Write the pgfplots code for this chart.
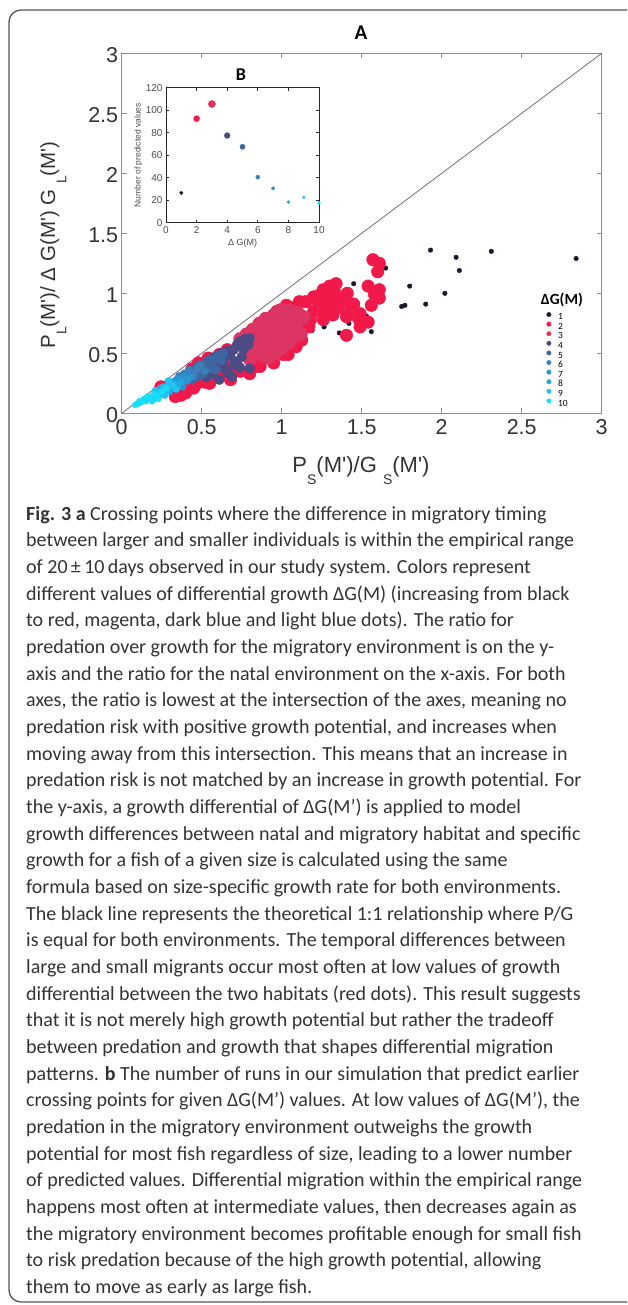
\documentclass[border=0pt]{standalone}
\usepackage{pgfplots}
\pgfplotsset{compat=1.18}
\usepackage{fontspec}
\setmainfont{Carlito}
\newfontfamily\chartfont{Liberation Sans}

\definecolor{c1}{HTML}{1A1A2E}
\definecolor{c2}{HTML}{F0194A}
\definecolor{c3}{HTML}{DC3563}
\definecolor{c4}{HTML}{4B4B85}
\definecolor{c5}{HTML}{3E66A0}
\definecolor{c6}{HTML}{3B80BB}
\definecolor{c7}{HTML}{2B93CF}
\definecolor{c8}{HTML}{23A9E2}
\definecolor{c9}{HTML}{1EC3F1}
\definecolor{c10}{HTML}{19DEF9}
\definecolor{axgray}{HTML}{8C8C8C}
\definecolor{txtgray}{HTML}{333333}
\definecolor{framegray}{HTML}{555555}
\definecolor{captext}{HTML}{333333}

\newcommand{\subs}[1]{\raisebox{-0.55em}{\fontsize{14}{14}\selectfont #1}}

\pgfplotsset{
  dots/.style={only marks, mark=*, color=#1, mark options={draw=none, fill=#1}},
}

\begin{document}
\begin{tikzpicture}
\path[use as bounding box] (0pt,0pt) rectangle (627pt,-1305pt);
\draw[framegray, line width=1.3pt] (627pt,-10pt) -- (21pt,-10pt)
  arc[start angle=90, end angle=180, radius=12pt] -- (9pt,-1290pt)
  arc[start angle=180, end angle=270, radius=12pt] -- (627pt,-1302pt);

% main panel A
\begin{axis}[
  at={(121.7pt,-413.3pt)}, anchor=south west,
  width=480pt, height=360pt, scale only axis,
  xmin=0, xmax=3, ymin=0, ymax=3,
  xtick={0,0.5,1,1.5,2,2.5,3},
  ytick={0,0.5,1,1.5,2,2.5,3},
  tick align=inside,
  major tick length=5pt,
  axis line style={draw=axgray, line width=0.9pt},
  every tick/.style={draw=axgray, line width=0.8pt},
  ticklabel style={font=\chartfont\fontsize{21.5}{21.5}\selectfont, text=txtgray},
  xticklabel style={yshift=-3pt},
  yticklabel style={yshift=-2pt},
  /pgf/number format/assume math mode=true,
  legend image code/.code={\draw[#1, mark size=2.2pt] plot coordinates {(0pt,3pt)};},
  legend style={at={(axis cs:2.655,0.843)}, anchor=north west, draw=none, fill=none,
    inner sep=0pt, row sep=0pt, column sep=7pt,
    font=\fontsize{9.5}{9.5}\selectfont,
    nodes={inner sep=0pt, text height=6.6pt, text depth=2.2pt}},
  legend cell align=left,
]
\addplot[axgray!80!black, line width=0.8pt, forget plot] coordinates {(0,0) (3,3)};

\addplot[dots=c1, mark size=2.3pt] coordinates {
(1.93,1.36) (2.09,1.30) (2.31,1.35) (2.84,1.29) (2.11,1.19) (1.45,1.08)
(1.80,1.06) (2.02,1.00) (1.75,0.89) (1.77,0.90) (1.90,0.91) (1.65,1.21)
(1.53,0.81) (1.42,0.75) (1.56,0.68) (1.36,0.67) (1.265,0.72) (1.19,0.69)
(1.30,0.95) (1.10,0.75) (0.98,0.60) (0.90,0.55)
};
\addlegendentry{1}

\addplot[dots=c2, mark size=6.3pt] coordinates {
(1.57,1.28) (1.61,1.25) (1.60,1.18)
(1.34,1.08) (1.30,1.06) (1.26,1.03) (1.24,0.99) (1.20,0.97) (1.15,0.93)
(1.23,0.92) (1.30,0.93) (1.28,0.98) (1.33,1.01)
(1.54,1.06) (1.61,1.03) (1.61,0.96) (1.56,0.90) (1.58,0.99)
(1.41,1.00) (1.385,0.93) (1.35,0.875) (1.43,0.86) (1.49,0.83) (1.405,0.805)
(1.32,0.82) (1.26,0.86) (1.20,0.85) (1.26,0.78) (1.135,0.805) (1.11,0.69)
(1.125,0.61) (1.49,0.72) (1.54,0.76) (1.405,0.65) (1.48,0.79) (1.37,0.95)
(1.45,0.91) (1.30,0.88) (1.18,0.78) (1.17,0.72)
(1.09,0.89) (1.01,0.83) (1.135,0.72) (1.03,0.90) (1.11,0.93) (0.97,0.85)
(1.05,0.64) (1.09,0.555) (1.01,0.49) (0.95,0.42) (0.865,0.39) (0.80,0.33)
(0.72,0.39) (0.68,0.28) (0.61,0.305) (0.55,0.25) (1.04,0.49) (0.84,0.39)
(0.865,0.46) (0.74,0.35)
(0.37,0.15) (0.335,0.14) (0.42,0.21) (0.47,0.25) (0.52,0.26) (0.585,0.305)
(0.625,0.33) (0.67,0.375) (0.265,0.21) (0.40,0.17) (0.45,0.21)
(0.48,0.42) (0.54,0.46) (0.61,0.49) (0.66,0.53) (0.245,0.22) (0.44,0.37)
};
\addlegendentry{2}

\addplot[dots=c3, mark size=6.5pt] coordinates {
(0.74,0.62) (0.78,0.66) (0.82,0.63) (0.86,0.69) (0.90,0.73) (0.94,0.77)
(0.98,0.79) (1.02,0.77) (1.06,0.81) (1.00,0.72) (0.96,0.68) (0.92,0.64)
(0.88,0.60) (0.84,0.56) (0.80,0.52) (0.90,0.54) (0.94,0.58) (0.98,0.62)
(1.02,0.66) (1.06,0.70) (1.10,0.76) (1.08,0.64) (1.04,0.58) (1.00,0.54)
(0.96,0.50) (0.92,0.46) (0.88,0.48) (1.12,0.66) (1.14,0.80) (1.10,0.84)
(1.05,0.86) (0.99,0.86) (0.95,0.82) (0.90,0.79) (0.86,0.75) (0.82,0.70)
(0.86,0.52) (0.80,0.45)
};
\addlegendentry{3}

\addplot[dots=c4, mark size=5.0pt] coordinates {
(0.80,0.625) (0.79,0.57) (0.74,0.60) (0.76,0.53) (0.80,0.375) (0.70,0.53)
(0.68,0.47) (0.635,0.39) (0.69,0.305) (0.61,0.28) (0.72,0.43) (0.66,0.52)
(0.62,0.50) (0.58,0.47) (0.72,0.57) (0.77,0.62) (0.64,0.45) (0.56,0.42)
(0.52,0.38) (0.66,0.34) (0.75,0.47) (0.53,0.30) (0.57,0.33) (0.74,0.38)
(0.60,0.40) (0.70,0.40)
};
\addlegendentry{4}

\addplot[dots=c5, mark size=4.6pt] coordinates {
(0.57,0.44) (0.635,0.50) (0.53,0.39) (0.59,0.36) (0.50,0.32) (0.55,0.45)
(0.60,0.48) (0.48,0.40) (0.45,0.36) (0.52,0.42) (0.62,0.44) (0.56,0.37)
(0.46,0.30) (0.42,0.33) (0.50,0.36) (0.44,0.28) (0.40,0.30)
};
\addlegendentry{5}

\addplot[dots=c6, mark size=3.9pt] coordinates {
(0.40,0.30) (0.44,0.34) (0.38,0.27) (0.47,0.37) (0.42,0.36) (0.36,0.31)
(0.49,0.40) (0.34,0.25) (0.45,0.31) (0.52,0.35) (0.39,0.33)
};
\addlegendentry{6}

\addplot[dots=c7, mark size=3.6pt] coordinates {
(0.33,0.27) (0.36,0.24) (0.39,0.30) (0.30,0.23) (0.41,0.27) (0.35,0.29)
(0.43,0.30) (0.32,0.21) (0.38,0.22)
};
\addlegendentry{7}

\addplot[dots=c8, mark size=3.3pt] coordinates {
(0.27,0.20) (0.29,0.24) (0.31,0.21) (0.25,0.19) (0.33,0.25) (0.22,0.18)
(0.35,0.22) (0.37,0.26) (0.30,0.18) (0.24,0.21)
};
\addlegendentry{8}

\addplot[dots=c9, mark size=3.3pt] coordinates {
(0.19,0.14) (0.23,0.17) (0.26,0.22) (0.21,0.19) (0.28,0.18) (0.17,0.13)
(0.30,0.25) (0.24,0.15) (0.32,0.23) (0.15,0.11) (0.27,0.15) (0.20,0.12)
(0.34,0.20) (0.29,0.27)
};
\addlegendentry{9}

\addplot[dots=c10, mark size=3.0pt] coordinates {
(0.085,0.07) (0.12,0.09) (0.15,0.10) (0.18,0.12) (0.20,0.16) (0.14,0.12)
(0.22,0.15) (0.25,0.18) (0.16,0.14) (0.28,0.21) (0.11,0.10) (0.19,0.10)
(0.23,0.12) (0.10,0.08)
};
\addlegendentry{10}
\end{axis}

% inset panel B
\begin{axis}[
  at={(166pt,-222.7pt)}, anchor=south west,
  width=153pt, height=135pt, scale only axis,
  xmin=0, xmax=10, ymin=0, ymax=120,
  xtick={0,2,4,6,8,10}, ytick={0,20,40,60,80,100,120},
  tick align=inside,
  major tick length=3pt,
  axis line style={draw=black!85, line width=1pt},
  every tick/.style={draw=black!85, line width=0.8pt},
  ticklabel style={font=\chartfont\fontsize{10}{10}\selectfont, text=black!70},
  /pgf/number format/assume math mode=true,
  xlabel={\chartfont\fontsize{9}{9}\selectfont Δ G(M)},
  ylabel={\chartfont\fontsize{8.5}{8.5}\selectfont Number of predicted values},
  xlabel style={text=black!70, yshift=1pt},
  ylabel style={text=black!70, yshift=-3.5pt},
]
\addplot[dots=c1, mark size=1.8pt] coordinates {(1,26.5)};
\addplot[dots=c2, mark size=3.0pt] coordinates {(2,92.5)};
\addplot[dots=c3, mark size=3.6pt] coordinates {(3,105.5)};
\addplot[dots=c4, mark size=2.9pt] coordinates {(4,77.5)};
\addplot[dots=c5, mark size=2.6pt] coordinates {(5,67.5)};
\addplot[dots=c6, mark size=2.0pt] coordinates {(6,40.5)};
\addplot[dots=c7, mark size=1.8pt] coordinates {(7,30.5)};
\addplot[dots=c8, mark size=1.5pt] coordinates {(8,18.3)};
\addplot[dots=c9, mark size=1.5pt] coordinates {(9,22.5)};
\addplot[dots=c10, mark size=1.6pt] coordinates {(10,17.5)};
\end{axis}

% titles and axis labels
\node[font=\bfseries\fontsize{21}{21}\selectfont, text=black] at (361pt,-33pt) {A};
\node[font=\bfseries\fontsize{18}{18}\selectfont, text=black] at (241pt,-75pt) {B};
\node[anchor=base west, inner sep=0pt, font=\bfseries\fontsize{15.5}{15.5}\selectfont] at (540.7pt,-305pt) {ΔG(M)};
\node[anchor=base, inner sep=0pt, text=txtgray, font=\chartfont\fontsize{22}{22}\selectfont]
  at (361pt,-472pt) {P\subs{S}(M')/G \subs{S}(M')};
\node[anchor=base, inner sep=0pt, rotate=90, text=txtgray, font=\chartfont\fontsize{20.5}{20.5}\selectfont]
  at (55pt,-245pt) {P\subs{L}(M')/\ Δ G(M') G \subs{L}(M')};

% caption
\node[anchor=base west, inner sep=0pt, text=captext] at (26pt,-520pt) {%
\begin{minipage}[t]{620pt}\fontsize{20}{26.67}\selectfont\raggedright
\textbf{Fig. 3 a} Crossing points where the difference in migratory timing\\
between larger and smaller individuals is within the empirical range\\
of 20\,±\,10\,days observed in our study system. Colors represent\\
different values of differential growth ΔG(M) (increasing from black\\
to red, magenta, dark blue and light blue dots). The ratio for\\
predation over growth for the migratory environment is on the y-\\
axis and the ratio for the natal environment on the x-axis. For both\\
axes, the ratio is lowest at the intersection of the axes, meaning no\\
predation risk with positive growth potential, and increases when\\
moving away from this intersection. This means that an increase in\\
predation risk is not matched by an increase in growth potential. For\\
the y-axis, a growth differential of ΔG(M’) is applied to model\\
growth differences between natal and migratory habitat and specific\\
growth for a fish of a given size is calculated using the same\\
formula based on size-specific growth rate for both environments.\\
The black line represents the theoretical 1:1 relationship where P/G\\
is equal for both environments. The temporal differences between\\
large and small migrants occur most often at low values of growth\\
differential between the two habitats (red dots). This result suggests\\
that it is not merely high growth potential but rather the tradeoff\\
between predation and growth that shapes differential migration\\
patterns. \textbf{b} The number of runs in our simulation that predict earlier\\
crossing points for given ΔG(M’) values. At low values of ΔG(M’), the\\
predation in the migratory environment outweighs the growth\\
potential for most fish regardless of size, leading to a lower number\\
of predicted values. Differential migration within the empirical range\\
happens most often at intermediate values, then decreases again as\\
the migratory environment becomes profitable enough for small fish\\
to risk predation because of the high growth potential, allowing\\
them to move as early as large fish.
\end{minipage}};
\end{tikzpicture}
\end{document}
